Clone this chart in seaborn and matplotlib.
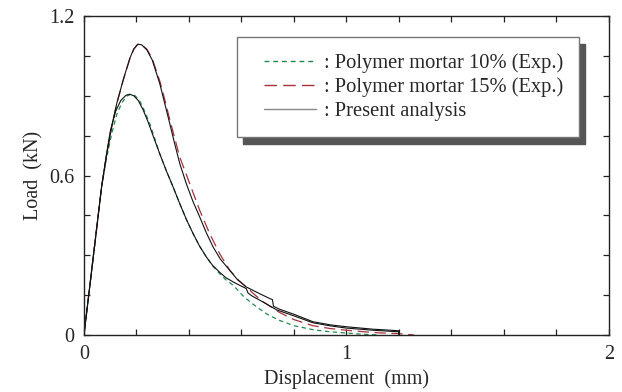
import numpy as np
import pandas as pd
import matplotlib
matplotlib.use("Agg")
import matplotlib.pyplot as plt
from matplotlib.patches import Shadow
from matplotlib.lines import Line2D
from matplotlib.legend_handler import HandlerLine2D
from matplotlib.ticker import MultipleLocator
import seaborn as sns

# %% Data
exp10_x = [0, 0.067, 0.085, 0.105, 0.125, 0.145, 0.165, 0.18, 0.195, 0.213, 0.232, 0.251,
           0.27, 0.289, 0.315, 0.34, 0.365, 0.39, 0.416, 0.44, 0.466, 0.49, 0.517, 0.54,
           0.568, 0.61, 0.657, 0.7, 0.745, 0.8, 0.872, 0.94, 1.0, 1.06, 1.125]
exp10_y = [0, 0.556, 0.66, 0.755, 0.83, 0.875, 0.9, 0.906, 0.9, 0.88, 0.84, 0.794,
           0.738, 0.681, 0.615, 0.556, 0.494, 0.435, 0.381, 0.335, 0.294, 0.26, 0.231, 0.208,
           0.1875, 0.143, 0.106, 0.077, 0.055, 0.035, 0.02, 0.012, 0.0075, 0.003, 0]

exp15_x = [0, 0.067, 0.085, 0.105, 0.125, 0.15, 0.175, 0.19, 0.205, 0.22, 0.24, 0.26,
           0.289, 0.308, 0.327, 0.346, 0.365, 0.385, 0.403, 0.441, 0.479, 0.517, 0.555,
           0.59, 0.618, 0.65, 0.682, 0.745, 0.8, 0.872, 0.94, 1.0, 1.062, 1.125, 1.2, 1.258]
exp15_y = [0, 0.556, 0.67, 0.78, 0.87, 0.96, 1.04, 1.075, 1.094, 1.092, 1.075, 1.04,
           0.955, 0.885, 0.81, 0.74, 0.669, 0.617, 0.569, 0.469, 0.381, 0.306, 0.244,
           0.205, 0.181, 0.152, 0.125, 0.085, 0.058, 0.035, 0.024, 0.018, 0.0125, 0.008,
           0.005, 0]

ana10_x = [0, 0.067, 0.085, 0.1, 0.12, 0.14, 0.16, 0.175, 0.19, 0.207, 0.225, 0.245,
           0.265, 0.289, 0.315, 0.34, 0.365, 0.39, 0.416, 0.44, 0.466, 0.49, 0.517, 0.54,
           0.568, 0.595, 0.618, 0.625, 0.64, 0.69, 0.733, 0.8, 0.872, 0.94, 1.0, 1.1, 1.2, 1.2]
ana10_y = [0, 0.556, 0.675, 0.765, 0.84, 0.882, 0.902, 0.906, 0.9, 0.882, 0.848, 0.8,
           0.745, 0.681, 0.615, 0.556, 0.494, 0.435, 0.381, 0.335, 0.294, 0.262, 0.236, 0.216,
           0.2, 0.186, 0.175, 0.158, 0.147, 0.12, 0.095, 0.072, 0.046, 0.034, 0.026, 0.018,
           0.012, 0]

ana15_x = [0, 0.067, 0.085, 0.105, 0.125, 0.15, 0.175, 0.19, 0.205, 0.22, 0.24, 0.26,
           0.289, 0.308, 0.327, 0.346, 0.365, 0.39, 0.415, 0.441, 0.466, 0.492, 0.52,
           0.555, 0.585, 0.618, 0.66, 0.707, 0.718, 0.722, 0.745, 0.8, 0.872, 0.94, 1.0,
           1.1, 1.2, 1.2]
ana15_y = [0, 0.556, 0.672, 0.782, 0.872, 0.962, 1.042, 1.077, 1.094, 1.092, 1.072, 1.035,
           0.945, 0.87, 0.795, 0.718, 0.645, 0.569, 0.503, 0.444, 0.385, 0.331, 0.285,
           0.244, 0.208, 0.181, 0.16, 0.1375, 0.133, 0.108, 0.097, 0.078, 0.05, 0.038,
           0.031, 0.022, 0.016, 0]

labels = [": Polymer mortar 10% (Exp.)", ": Polymer mortar 15% (Exp.)", ": Present analysis"]

# %% Style
sns.set_style("ticks")
plt.rcParams["font.family"] = ["Liberation Serif", "DejaVu Serif"]

GREEN = "#1f8a4c"
RED = "#a8323a"
FS = 14.5

fig, ax = plt.subplots(figsize=(6.22, 3.92), dpi=100)
fig.subplots_adjust(left=0.135, right=0.979, top=0.959, bottom=0.1454)

lw = 0.9
sns.lineplot(x=exp10_x, y=exp10_y, sort=False, estimator=None, color=GREEN, lw=lw,
             ax=ax, label=labels[0])
ax.lines[-1].set_dashes((3.5, 2.8))
sns.lineplot(x=exp15_x, y=exp15_y, sort=False, estimator=None, color=RED, lw=lw,
             ax=ax, label=labels[1])
ax.lines[-1].set_dashes((9, 4.5))
sns.lineplot(x=ana10_x, y=ana10_y, sort=False, estimator=None, color="#111111", lw=0.8,
             ax=ax, label=labels[2])
sns.lineplot(x=ana15_x, y=ana15_y, sort=False, estimator=None, color="#111111", lw=0.8,
             ax=ax)

ax.set_xlim(0, 2)
ax.set_ylim(0, 1.2)
ax.xaxis.set_major_locator(MultipleLocator(1))
ax.xaxis.set_minor_locator(MultipleLocator(0.2))
ax.yaxis.set_major_locator(MultipleLocator(0.6))
ax.yaxis.set_minor_locator(MultipleLocator(0.15))
ax.xaxis.set_major_formatter(lambda v, p: f"{v:g}")
ax.yaxis.set_major_formatter(lambda v, p: f"{v:g}")

for sp in ax.spines.values():
    sp.set_visible(True)
    sp.set_linewidth(1.0)
    sp.set_color("#222222")
ax.tick_params(which="both", direction="in", top=True, right=True, length=4.5,
               width=0.9, color="#222222", labelsize=FS, pad=7)

ax.set_xlabel("Displacement  (mm)", fontsize=FS, labelpad=4)
ax.set_ylabel("Load  (kN)", fontsize=FS, labelpad=4)

leg = ax.legend(loc="upper right", bbox_to_anchor=(0.943, 0.934), fontsize=14.8,
                frameon=True, fancybox=False, edgecolor="#777777", framealpha=1,
                handlelength=3.05, handletextpad=0.4, borderpad=0.78, labelspacing=0.22,
                borderaxespad=0, handler_map={Line2D: HandlerLine2D(xpad=0.55)})
leg.get_frame().set_linewidth(1.0)
for h in leg.get_lines():
    h.set_linewidth(1.0)
leg.get_lines()[2].set_color("#888888")

# dark offset shadow behind the legend box
fig.canvas.draw()
shadow = Shadow(leg.legendPatch, 4.5, -5, color="#555555", alpha=1, zorder=4.9)
ax.add_artist(shadow)

fig.savefig("out.png", dpi=100)
